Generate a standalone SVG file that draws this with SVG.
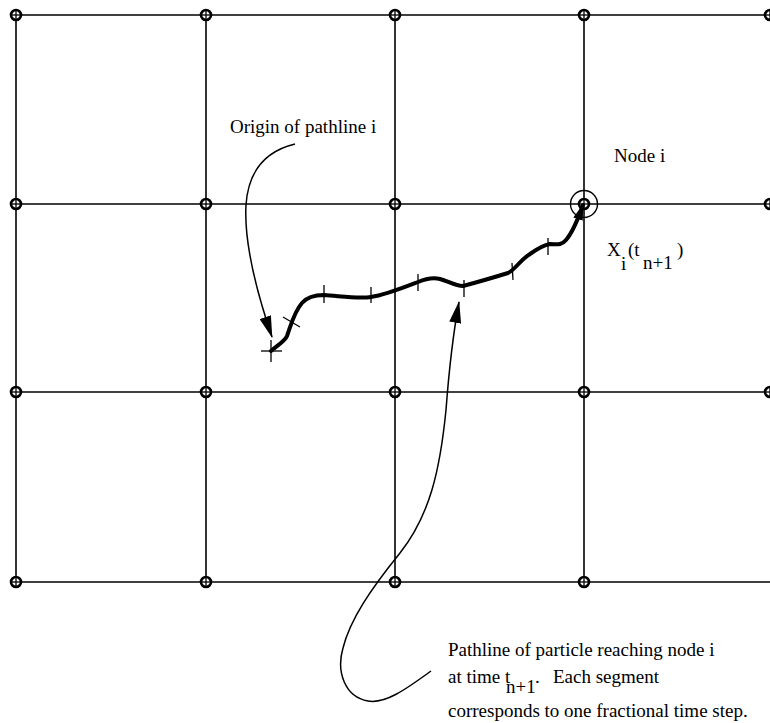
<svg xmlns="http://www.w3.org/2000/svg" width="770" height="723" viewBox="0 0 770 723">
<style>
.grid{stroke:#000;stroke-width:1.6;fill:none}
.lbl{font-family:"Liberation Serif","Times New Roman",serif;font-size:19px;fill:#000}
.tick{stroke:#000;stroke-width:1.3}
.lead{stroke:#000;stroke-width:1.5;fill:none}
</style>
<defs>
<marker id="ah" viewBox="0 0 22 12" refX="21" refY="6" markerWidth="22" markerHeight="12" markerUnits="userSpaceOnUse" orient="auto">
<path d="M0,0 L22,6 L0,12 Z" fill="#000"/>
</marker>
<marker id="ah2" viewBox="0 0 16 10" refX="15" refY="5" markerWidth="16" markerHeight="10" markerUnits="userSpaceOnUse" orient="auto">
<path d="M0,0 L16,5 L0,10 Z" fill="#000"/>
</marker>
<g id="gn">
<circle cx="0" cy="0" r="5" fill="#fff" stroke="#000" stroke-width="2.6"/>
<line x1="-5" y1="0" x2="5" y2="0" stroke="#000" stroke-width="1.3"/>
<line x1="0" y1="-5" x2="0" y2="5" stroke="#000" stroke-width="1.3"/>
</g>
</defs>
<rect width="770" height="723" fill="#fff"/>
<g id="grid" class="grid">
<line x1="16" y1="15" x2="770" y2="15"/>
<line x1="16" y1="204" x2="770" y2="204"/>
<line x1="16" y1="392" x2="770" y2="392"/>
<line x1="16" y1="582" x2="770" y2="582"/>
<line x1="16" y1="15" x2="16" y2="582"/>
<line x1="206" y1="15" x2="206" y2="582"/>
<line x1="395" y1="15" x2="395" y2="582"/>
<line x1="584" y1="15" x2="584" y2="582"/>
</g>
<g id="nodes">
<use href="#gn" x="16" y="15"/><use href="#gn" x="206" y="15"/><use href="#gn" x="395" y="15"/><use href="#gn" x="584" y="15"/><use href="#gn" x="770" y="15"/>
<use href="#gn" x="16" y="204"/><use href="#gn" x="206" y="204"/><use href="#gn" x="395" y="204"/><use href="#gn" x="770" y="204"/>
<use href="#gn" x="16" y="392"/><use href="#gn" x="206" y="392"/><use href="#gn" x="395" y="392"/><use href="#gn" x="584" y="392"/><use href="#gn" x="770" y="392"/>
<use href="#gn" x="16" y="582"/><use href="#gn" x="206" y="582"/><use href="#gn" x="395" y="582"/><use href="#gn" x="584" y="582"/>
</g>
<g id="node-i">
<circle cx="584" cy="204" r="13.5" fill="none" stroke="#000" stroke-width="1.4"/>
<use href="#gn" x="584" y="204"/>
<text class="lbl" x="614" y="162">Node i</text>
<text class="lbl"><tspan x="607" y="256">X</tspan><tspan x="621" y="270">i</tspan><tspan x="628" y="256">(t</tspan><tspan x="643" y="269">n+1</tspan><tspan x="677" y="256">)</tspan></text>
</g>
<g id="pathline">
<path d="M271,351 C278,345 285,341 287,336 C291,325 294,312 302,303 C308,296 316,295 324,295 C340,296 358,299 371,297 C385,295 405,287 418,282 C425,279 432,277 440,279 C448,281 455,286 463,286 C478,282 495,277 508,273 C515,270 520,260 530,254 C537,249 544,245 550,244 C556,244 561,246 566,240 C572,233 577,222 583,205" fill="none" stroke="#000" stroke-width="4" stroke-linecap="round" marker-end="url(#ah2)"/>
<line class="tick" x1="261" y1="351" x2="282" y2="351"/>
<line class="tick" x1="271" y1="340" x2="271" y2="362"/>
<line class="tick" x1="283" y1="317" x2="300" y2="327"/>
<line class="tick" x1="324" y1="285" x2="324" y2="303"/>
<line class="tick" x1="371" y1="287" x2="371" y2="303"/>
<line class="tick" x1="418" y1="274" x2="418" y2="291"/>
<line class="tick" x1="464" y1="280" x2="464" y2="297"/>
<line class="tick" x1="512" y1="263" x2="513" y2="280"/>
<line class="tick" x1="548" y1="238" x2="548" y2="255"/>
</g>
<g id="connectors">
<path class="lead" d="M295,144 C262,152 248,175 246,205 C244,240 256,290 272,337" marker-end="url(#ah)"/>
<path class="lead" d="M431,671 C405,690 385,704 368,701 C345,697 336,672 343,648 C350,620 370,590 400,553 C430,515 440,470 446,410 C449,370 452,340 459,302" marker-end="url(#ah)"/>
</g>
<g id="labels">
<text class="lbl" x="230" y="133">Origin of pathline i</text>
<text class="lbl" x="448" y="656">Pathline of particle reaching node i</text>
<text class="lbl"><tspan x="448" y="683">at time t</tspan><tspan x="506" y="693">n+1</tspan><tspan x="535" y="683">.</tspan><tspan x="553" y="683">Each segment</tspan></text>
<text class="lbl" x="448" y="717">corresponds to one fractional time step.</text>
</g>
</svg>
